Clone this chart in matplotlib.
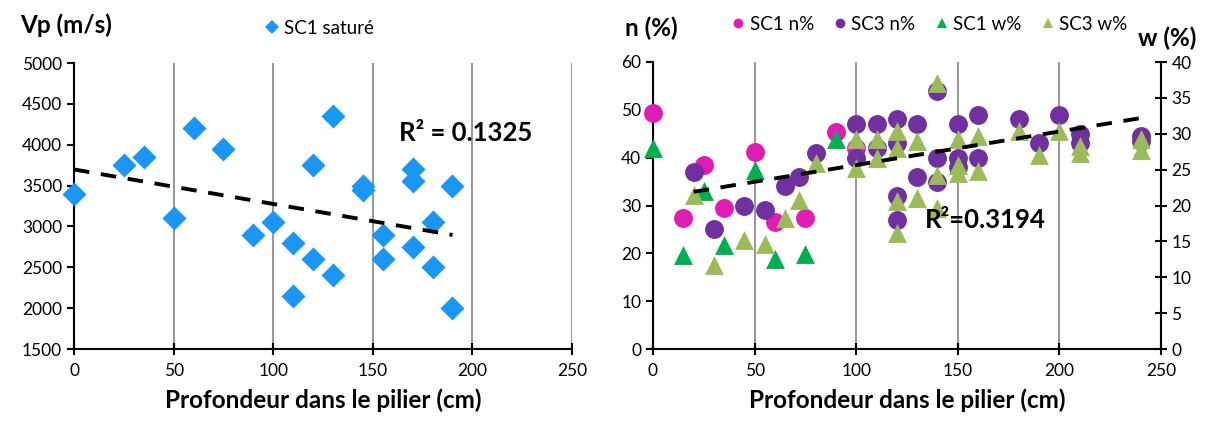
import numpy as np
import matplotlib
matplotlib.use("Agg")
import matplotlib.pyplot as plt
from matplotlib.lines import Line2D

plt.rcParams['font.family'] = ['Lato', 'DejaVu Sans']

# ---------- Left chart data ----------
sc1_sat_x = [0, 25, 35, 60, 75, 50, 90, 100, 110, 110, 120, 120, 130, 130, 145, 145,
             155, 155, 170, 170, 170, 180, 180, 190, 190]
sc1_sat_vp = [3400, 3750, 3850, 4200, 3950, 3100, 2900, 3050, 2800, 2150, 3750, 2600, 4350, 2400,
              3500, 3450, 2900, 2600, 3700, 3550, 2750, 3050, 2500, 3500, 2000]

# ---------- Right chart data ----------
sc1_n_x = [0, 15, 25, 35, 50, 60, 75, 90, 100]
sc1_n = [49.4, 27.4, 38.4, 29.5, 41.2, 26.5, 27.4, 45.3, 42.0]

sc3_n_x = [20, 30, 45, 55, 65, 72, 80, 100, 100, 110, 110, 120, 120, 120, 120, 130, 130,
           140, 140, 140, 150, 150, 150, 160, 160, 180, 190, 200, 210, 210, 240, 240]
sc3_n = [37, 25, 30, 29, 34, 36, 41, 47, 40, 47, 42, 48, 43, 32, 27, 47, 36,
         54, 40, 35, 47, 40, 38, 49, 40, 48, 43, 49, 45, 43, 44.5, 43.5]

sc1_w_x = [0, 15, 25, 35, 50, 60, 75, 90]
sc1_w = [28.0, 13.1, 22.0, 14.5, 24.9, 12.6, 13.3, 29.2]

sc3_w_x = [20, 30, 45, 55, 65, 72, 80, 100, 100, 110, 110, 120, 120, 120, 120, 130, 130,
           140, 140, 140, 150, 150, 150, 160, 160, 180, 190, 200, 210, 210, 240, 240]
sc3_w = [21.5, 11.7, 15.2, 14.7, 18.2, 20.8, 25.9, 29.2, 25.2, 29.2, 26.6, 30.4, 28.0, 20.6, 16.1,
         29.0, 21.0, 37.1, 24.3, 19.6, 29.2, 25.7, 24.5, 29.7, 24.8, 30.4, 27.1, 30.4, 28.3, 27.3,
         29.2, 27.8]

x_ticks = [0, 50, 100, 150, 200, 250]

C_BLUE = '#1A96F5'
C_MAG = '#E01CB4'
C_PUR = '#7030A0'
C_GRN = '#00B050'
C_OLV = '#9BBB59'
GRID = '#9a9a9a'

fig = plt.figure(figsize=(12.06, 4.25), dpi=100)
W, H = 1206, 425

def ax_rect(x0, y0, x1, y1):
    return [x0 / W, 1 - y1 / H, (x1 - x0) / W, (y1 - y0) / H]

TICK_FS = 12.5
LAB_FS = 17.5
R2_FS = 18.5
LEG_FS = 13.5

# ---------- Left ----------
ax1 = fig.add_axes(ax_rect(74, 63, 572, 349))
ax1.scatter(sc1_sat_x, sc1_sat_vp, marker='D', s=150, color=C_BLUE, linewidths=0, zorder=3,
            clip_on=False)
p = np.polyfit(sc1_sat_x, sc1_sat_vp, 1)
xx = np.array([min(sc1_sat_x), max(sc1_sat_x)])
ax1.plot(xx, np.polyval(p, xx), color='black', lw=2.8, ls=(0, (4, 3)), zorder=4)
ax1.set_xlim(0, 250)
ax1.set_ylim(1500, 5000)
ax1.set_xticks(x_ticks)
ax1.set_yticks(range(1500, 5001, 500))
ax1.grid(axis='x', color=GRID, lw=1.5)
ax1.set_axisbelow(True)
for s in ['top', 'right']:
    ax1.spines[s].set_visible(False)
for s in ['left', 'bottom']:
    ax1.spines[s].set_linewidth(1.5)
ax1.tick_params(axis='x', direction='inout', length=8, width=1.5, labelsize=TICK_FS, pad=6)
ax1.tick_params(axis='y', direction='out', length=5, width=1.5, labelsize=TICK_FS)
ax1.set_xlabel('Profondeur dans le pilier (cm)', fontsize=LAB_FS, fontweight='bold', labelpad=7)
ax1.text(163, 4140, 'R² = 0.1325', fontsize=R2_FS, fontweight='bold', ha='left', va='center')
fig.text(20 / W, 1 - 25 / H, 'Vp (m/s)', fontsize=LAB_FS, fontweight='bold', ha='left', va='center')
h = [Line2D([], [], marker='D', ls='none', color=C_BLUE, markersize=7, markeredgewidth=0)]
fig.legend(h, ['SC1 saturé'], loc='center left', bbox_to_anchor=(246 / W, 1 - 28 / H),
           frameon=False, fontsize=LEG_FS, handletextpad=0.1, handlelength=1.0)

# ---------- Right ----------
ax2 = fig.add_axes(ax_rect(653, 62, 1161, 349))
ax2.scatter(sc1_n_x, sc1_n, marker='o', s=185, color=C_MAG, linewidths=0, zorder=3, clip_on=False)
ax2.scatter(sc3_n_x, sc3_n, marker='o', s=185, color=C_PUR, linewidths=0, zorder=3, clip_on=False)
ax2.set_xlim(0, 250)
ax2.set_ylim(0, 60)
ax2.set_xticks(x_ticks)
ax2.set_yticks(range(0, 61, 10))
ax2.grid(axis='x', color=GRID, lw=1.5)
ax2.set_axisbelow(True)
ax2.spines['top'].set_visible(False)
ax2.spines['right'].set_visible(False)
for s in ['left', 'bottom']:
    ax2.spines[s].set_linewidth(1.5)
ax2.tick_params(axis='x', direction='inout', length=8, width=1.5, labelsize=TICK_FS, pad=6)
ax2.tick_params(axis='y', direction='out', length=5, width=1.5, labelsize=TICK_FS)
ax2.set_xlabel('Profondeur dans le pilier (cm)', fontsize=LAB_FS, fontweight='bold', labelpad=7)

ax3 = ax2.twinx()
ax3.scatter(sc1_w_x, sc1_w, marker='^', s=185, color=C_GRN, linewidths=0, zorder=3, clip_on=False)
ax3.scatter(sc3_w_x, sc3_w, marker='^', s=185, color=C_OLV, linewidths=0, zorder=3, clip_on=False)
# trendline of SC3 n% (primary scale), drawn on top of the markers
pn = np.polyfit(sc3_n_x, sc3_n, 1)
xn = np.array([min(sc3_n_x), max(sc3_n_x)])
ax3.plot(xn, np.polyval(pn, xn) * 40.0 / 60.0, color='black', lw=2.8, ls=(0, (4, 3)), zorder=4)
ax3.set_ylim(0, 40)
ax3.set_yticks(range(0, 41, 5))
for s in ['top', 'left', 'bottom']:
    ax3.spines[s].set_visible(False)
ax3.spines['right'].set_linewidth(1.5)
ax3.tick_params(axis='y', direction='inout', length=8, width=1.5, labelsize=TICK_FS)
ax3.text(134, 18, 'R²=0.3194', fontsize=R2_FS, fontweight='bold', ha='left', va='center')

fig.text(625 / W, 1 - 28 / H, 'n (%)', fontsize=LAB_FS, fontweight='bold', ha='left', va='center')
fig.text(1138 / W, 1 - 38 / H, 'w (%)', fontsize=LAB_FS, fontweight='bold', ha='left', va='center')
hs = [Line2D([], [], marker='o', ls='none', color=C_MAG, markersize=7, markeredgewidth=0),
      Line2D([], [], marker='o', ls='none', color=C_PUR, markersize=7, markeredgewidth=0),
      Line2D([], [], marker='^', ls='none', color=C_GRN, markersize=7, markeredgewidth=0),
      Line2D([], [], marker='^', ls='none', color=C_OLV, markersize=7, markeredgewidth=0)]
fig.legend(hs, ['SC1 n%', 'SC3 n%', 'SC1 w%', 'SC3 w%'], loc='center left',
           bbox_to_anchor=(712 / W, 1 - 24 / H), ncol=4, frameon=False, fontsize=LEG_FS,
           handletextpad=0.1, handlelength=1.0, columnspacing=0.9)

fig.savefig('out.png', dpi=100)
